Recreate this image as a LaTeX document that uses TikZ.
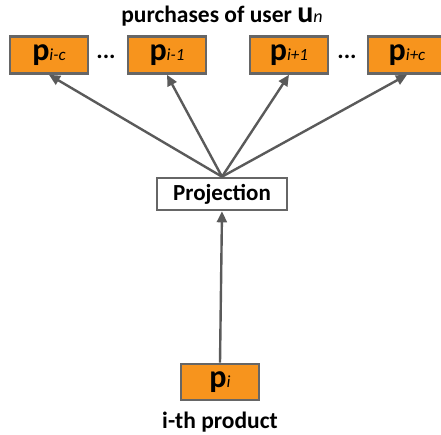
\documentclass[tikz,border=0pt]{standalone}
\usepackage{fontspec}
\setmainfont{Carlito}
\usetikzlibrary{arrows.meta}
\definecolor{porange}{HTML}{F7941D}
\definecolor{boxgray}{HTML}{666666}
\definecolor{linegray}{HTML}{5A5A5A}
\begin{document}
\begin{tikzpicture}[x=1pt,y=-1pt,
  pbox/.style={draw=boxgray, line width=2.6pt, fill=porange, minimum width=78pt, minimum height=37pt, inner sep=0pt},
  projbox/.style={draw=boxgray, line width=2.6pt, fill=white, minimum width=130pt, minimum height=32pt, inner sep=0pt, font=\bfseries\fontsize{23}{26}\selectfont},
  lbl/.style={font=\bfseries\fontsize{23.5}{26}\selectfont, inner sep=0pt},
  dots/.style={font=\bfseries\fontsize{24}{26}\selectfont, inner sep=0pt},
  conn/.style={draw=linegray, line width=2.4pt, -{Triangle[length=11pt,width=10pt]}}
]
\newcommand{\pv}[1]{{\bfseries\fontsize{32}{32}\selectfont p}{\itshape\fontsize{17}{17}\selectfont #1}}
\useasboundingbox (0,0) rectangle (441,435);
\clip (0,0) rectangle (441,435);
\node[lbl, anchor=base] (title) at (222,23) {purchases of user {\fontsize{30}{30}\selectfont u}{\mdseries\itshape\fontsize{18}{18}\selectfont n}};
\node[pbox] (pa) at (49,55) {\pv{i-c}};
\node[pbox] (pb) at (167,55) {\pv{i-1}};
\node[pbox] (pc) at (289,55) {\pv{i+1}};
\node[pbox] (pd) at (407,55) {\pv{i+c}};
\node[dots] (d1) at (106,57) {...};
\node[dots] (d2) at (347,57) {...};
\node[projbox] (proj) at (222,194) {Projection};
\node[pbox, minimum height=36pt] (pi) at (220,382) {\pv{i}};
\node[lbl, anchor=base] (ith) at (220,428) {i-th product};
\draw[conn] (proj.north) -- (pa.south);
\draw[conn] (proj.north) -- (pb.south);
\draw[conn] (proj.north) -- (pc.south);
\draw[conn] (proj.north) -- (pd.south);
\draw[conn] (pi.north) -- (proj.south);
\end{tikzpicture}
\end{document}
